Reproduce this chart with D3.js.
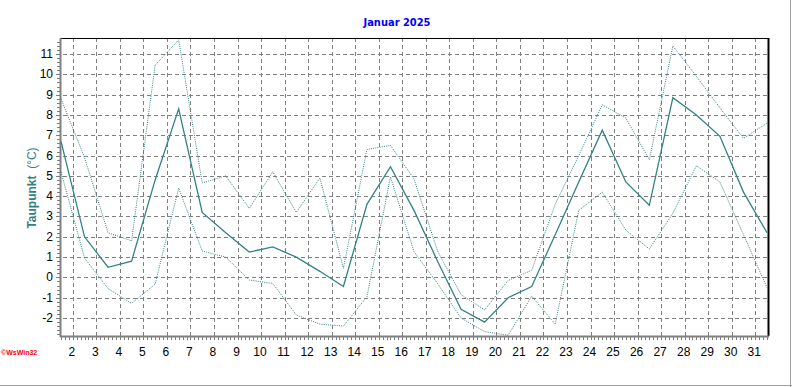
<!DOCTYPE html>
<html>
<head>
<meta charset="utf-8">
<script src="https://cdn.jsdelivr.net/npm/d3@7"></script>
<style>
body { margin: 0; background: #fff; }
text { font-family: "Liberation Sans", Arial, sans-serif; }
</style>
</head>
<body>
<script>
// Taupunkt Januar 2025 - Tagesmittel, Maximum, Minimum
var days = [1, 2, 3, 4, 5, 6, 7, 8, 9, 10, 11, 12, 13, 14, 15, 16, 17, 18, 19, 20, 21, 22, 23, 24, 25, 26, 27, 28, 29, 30, 31];
var meanDew = [6.7, 2.0, 0.5, 0.8, 4.8, 8.3, 3.2, 2.2, 1.25, 1.5, 1.0, 0.3, -0.45, 3.6, 5.45, 3.3, 0.8, -1.57, -2.2, -1.0, -0.45, 2.1, 4.7, 7.25, 4.7, 3.55, 8.85, 8.0, 6.95, 4.2, 2.2];
var maxDew = [8.8, 5.9, 2.2, 1.8, 10.45, 11.7, 4.65, 5.0, 3.4, 5.2, 3.2, 4.9, 0.45, 6.3, 6.5, 4.85, 1.3, -0.85, -1.6, -0.15, 0.35, 3.6, 6.0, 8.5, 7.85, 5.8, 11.4, 9.9, 8.35, 6.85, 7.6];
var minDew = [5.2, 0.95, -0.55, -1.28, -0.33, 4.4, 1.3, 1.0, -0.13, -0.3, -1.85, -2.3, -2.4, -0.95, 4.95, 1.27, -0.3, -2.0, -2.67, -2.85, -0.92, -2.3, 3.3, 4.2, 2.33, 1.4, 3.16, 5.5, 4.7, 2.1, -0.5];
var yTicks = [-2, -1, 0, 1, 2, 3, 4, 5, 6, 7, 8, 9, 10, 11];
var xLabels = [2, 3, 4, 5, 6, 7, 8, 9, 10, 11, 12, 13, 14, 15, 16, 17, 18, 19, 20, 21, 22, 23, 24, 25, 26, 27, 28, 29, 30, 31];

var teal = "#338282";
var grey = "#808080";

var pLeft = 61, pRight = 767, pTop = 38, pBottom = 336;

var svg = d3.select("body").append("svg")
    .attr("width", 792)
    .attr("height", 387);

svg.append("rect").attr("width", 792).attr("height", 387).attr("fill", "#fff");

// day N plotted at noon, grid line for label N at start of day
var x = d3.scaleLinear().domain([1, 31]).range([pLeft, pRight]);
var y = d3.scaleLinear().domain([-2.885, 11.79]).range([pBottom, pTop]);

// title
svg.append("text")
    .attr("x", 397).attr("y", 26)
    .attr("text-anchor", "middle")
    .style("font-family", "'Liberation Sans Narrow', 'DejaVu Sans Condensed', sans-serif")
    .style("font-weight", "bold")
    .style("font-size", "11px")
    .attr("fill", "#0000ff")
    .text("Januar 2025");

// grid
var grid = svg.append("g");
grid.selectAll("line.h")
    .data(yTicks).enter()
    .append("line")
    .attr("x1", 56).attr("x2", pRight + 1)
    .attr("y1", function (d) { return Math.round(y(d)) + 0.5; })
    .attr("y2", function (d) { return Math.round(y(d)) + 0.5; })
    .attr("stroke", grey)
    .attr("stroke-dasharray", "4,3");

grid.selectAll("line.v")
    .data(xLabels).enter()
    .append("line")
    .attr("x1", function (d) { return Math.round(x(d - 0.5)) + 0.5; })
    .attr("x2", function (d) { return Math.round(x(d - 0.5)) + 0.5; })
    .attr("y1", pTop).attr("y2", pBottom)
    .attr("stroke", grey)
    .attr("stroke-dasharray", "4,3");

// minor ticks
svg.append("g").selectAll("line")
    .data(d3.range(0, 181)).enter()
    .append("line")
    .attr("x1", function (d) { return Math.round(x(1 + d / 6)) + 0.5; })
    .attr("x2", function (d) { return Math.round(x(1 + d / 6)) + 0.5; })
    .attr("y1", pBottom + 1).attr("y2", pBottom + 4)
    .attr("stroke", grey);

svg.append("g").selectAll("line")
    .data(d3.range(-14, 59)).enter()
    .append("line")
    .attr("x1", 57).attr("x2", 60)
    .attr("y1", function (d) { return Math.round(y(d / 5)) + 0.5; })
    .attr("y2", function (d) { return Math.round(y(d / 5)) + 0.5; })
    .attr("stroke", grey);

// frame
svg.append("line").attr("x1", 60).attr("x2", 769).attr("y1", pTop + 0.5).attr("y2", pTop + 0.5).attr("stroke", "#000");
svg.append("line").attr("x1", 768.5).attr("x2", 768.5).attr("y1", pTop).attr("y2", pBottom).attr("stroke", "#000").attr("stroke-width", 2);
svg.append("line").attr("x1", 60.5).attr("x2", 60.5).attr("y1", pTop).attr("y2", pBottom + 1).attr("stroke", grey).attr("stroke-width", 2);
svg.append("line").attr("x1", 60).attr("x2", 769).attr("y1", pBottom + 0.5).attr("y2", pBottom + 0.5).attr("stroke", grey).attr("stroke-width", 2);

// tick labels
svg.append("g").selectAll("text")
    .data(yTicks).enter()
    .append("text")
    .attr("x", 53)
    .attr("y", function (d) { return y(d) + 4; })
    .attr("text-anchor", "end")
    .style("font-size", "12px")
    .attr("fill", "#000")
    .text(function (d) { return d; });

svg.append("g").selectAll("text")
    .data(xLabels).enter()
    .append("text")
    .attr("x", function (d) { return x(d - 0.5) - 1; })
    .attr("y", 356)
    .attr("text-anchor", "middle")
    .style("font-size", "12px")
    .attr("fill", "#000")
    .text(function (d) { return d; });

// y axis title
var yt = svg.append("text")
    .attr("transform", "translate(36,188) rotate(-90)")
    .attr("text-anchor", "middle")
    .style("font-size", "12px")
    .attr("fill", teal);
yt.append("tspan").style("font-weight", "bold").text("Taupunkt");
yt.append("tspan").text("  (°C)").attr("xml:space", "preserve");

// lines
function series(vals) {
    return days.map(function (d, i) { return [d, vals[i]]; });
}
var line = d3.line()
    .x(function (d) { return x(d[0]); })
    .y(function (d) { return y(d[1]); });

svg.append("path").attr("d", line(series(maxDew)))
    .attr("fill", "none").attr("stroke", teal).attr("stroke-width", 1)
    .attr("stroke-dasharray", "1,1.2");
svg.append("path").attr("d", line(series(minDew)))
    .attr("fill", "none").attr("stroke", teal).attr("stroke-width", 1)
    .attr("stroke-dasharray", "1,1.2");
svg.append("path").attr("d", line(series(meanDew)))
    .attr("fill", "none").attr("stroke", teal).attr("stroke-width", 1.3);

// credit + window edge
svg.append("text")
    .attr("x", 1).attr("y", 355)
    .style("font-size", "7px")
    .style("font-weight", "bold")
    .attr("fill", "#ff0000")
    .text("©WsWin32");

svg.append("line").attr("x1", 0).attr("x2", 792).attr("y1", 385.5).attr("y2", 385.5).attr("stroke", "#a0a0a0");
svg.append("line").attr("x1", 790.5).attr("x2", 790.5).attr("y1", 0).attr("y2", 387).attr("stroke", "#a0a0a0");
</script>
</body>
</html>
